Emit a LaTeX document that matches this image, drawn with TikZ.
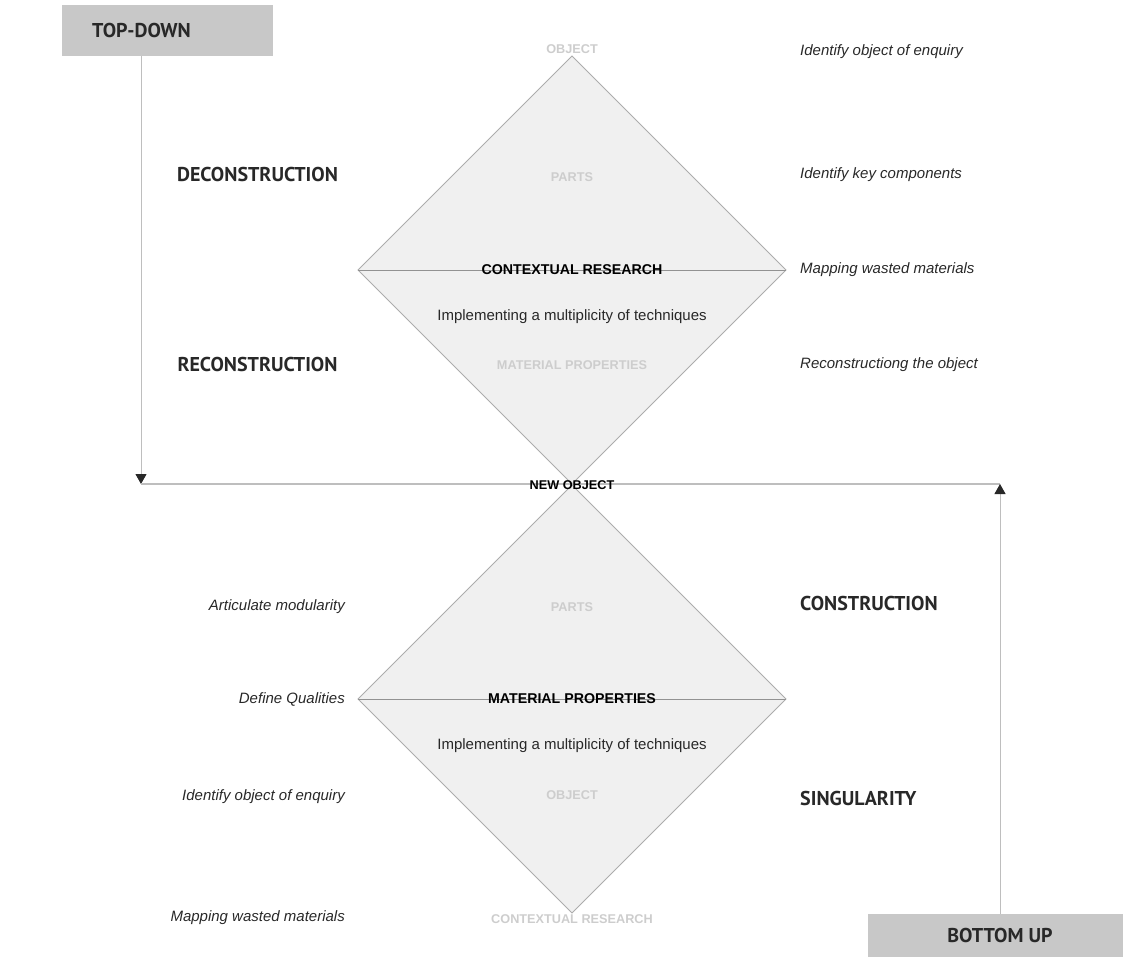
\documentclass[tikz,border=0pt]{standalone}
\usepackage{fontspec}
\setmainfont{Liberation Sans}
\newfontfamily\headfont{PT Sans}
\usetikzlibrary{arrows.meta, positioning}
\definecolor{boxgray}{RGB}{200, 200, 200}
\definecolor{fillgray}{RGB}{240, 240, 240}
\definecolor{edgegray}{RGB}{172, 172, 172}
\definecolor{linegray}{RGB}{190, 190, 190}
\definecolor{fadetext}{RGB}{205, 205, 205}
\definecolor{darktext}{RGB}{40, 40, 40}

\begin{document}
\begin{tikzpicture}[x=1pt, y=-1pt,
        % Set global font size for consistency
        font=\fontsize{15}{18}\selectfont,
        % Define reusable styles for different elements of the chart
        corner/.style={fill=boxgray, minimum width=211pt, minimum height=51pt, inner sep=0pt,
            font=\headfont\bfseries\fontsize{20}{22}\selectfont, text=darktext},
        flow/.style={draw=linegray, line width=1pt, -{Triangle[length=10pt, width=11pt, color=darktext]}},
        level/.style={draw=linegray, line width=1.5pt},
        diamondface/.style={fill=fillgray, draw=edgegray, line width=1pt},
        split/.style={draw=edgegray!85!black, line width=0.8pt},
        faded/.style={font=\bfseries\fontsize{12.7}{15}\selectfont, text=fadetext},
        strong/.style={font=\bfseries\fontsize{14.2}{16}\selectfont, text=black},
        body/.style={text=darktext},
        heading/.style={font=\headfont\bfseries\fontsize{20}{22}\selectfont, text=darktext, inner xsep=0pt},
        note/.style={font=\itshape\fontsize{15}{18}\selectfont, text=darktext, inner xsep=0pt}
    ]
    \useasboundingbox (0, 0) rectangle (1123, 957);

    % Two diamonds with their middle split
    \foreach \cy in {270, 699} {
        \filldraw[diamondface] (572, \cy-214) -- (786, \cy) -- (572, \cy+214) -- (358, \cy) -- cycle;
        \draw[split] (358, \cy) -- (786, \cy);
    }

    % Direction boxes and the flow between them
    \node[corner] (td) at (167.5, 30.5) {TOP-DOWN\hspace*{52pt}};
    \node[corner, minimum width=255pt, minimum height=43pt] (bu) at (995.5, 935.5) {\hspace*{9pt}BOTTOM UP};
    \coordinate (tdturn) at (141, 484);
    \coordinate (buturn) at (1000, 484);
    \draw[flow] (td.south -| tdturn) -- (tdturn);
    \draw[level] (tdturn) -- (buturn);
    \draw[flow] (bu.north -| buturn) -- (buturn);

    % Upper diamond labels
    \node[faded] (objtop) at (572, 49) {OBJECT};
    \node[faded] (partstop) at (572, 177) {PARTS};
    \node[strong] (ctxtop) at (572, 270) {CONTEXTUAL RESEARCH};
    \node[body] (techtop) at (572, 317) {Implementing a multiplicity of techniques};
    \node[faded] (mattop) at (572, 365) {MATERIAL PROPERTIES};
    \node[strong, font=\bfseries\fontsize{12.7}{15}\selectfont] (newobj) at (572, 485) {NEW OBJECT};

    % Lower diamond labels
    \node[faded] (partslow) at (572, 607) {PARTS};
    \node[strong] (matlow) at (572, 699) {MATERIAL PROPERTIES};
    \node[body] (techlow) at (572, 746) {Implementing a multiplicity of techniques};
    \node[faded] (objlow) at (572, 795) {OBJECT};
    \node[faded] (ctxlow) at (572, 919) {CONTEXTUAL RESEARCH};

    % Stage headings
    \node[heading] (decon) at (257.5, 175) {DECONSTRUCTION};
    \node[heading] (recon) at (257.5, 364) {RECONSTRUCTION};
    \node[heading, anchor=west] (con) at (800, 603) {CONSTRUCTION};
    \node[heading, anchor=west] (sing) at (800, 798) {SINGULARITY};

    % Step notes
    \foreach \y/\txt [count=\i] in {52/Identify object of enquiry, 175/Identify key components,
            270/Mapping wasted materials, 365/Reconstructiong the object} {
        \node[note, anchor=west] (stepR\i) at (800, \y) {\txt};
    }
    \foreach \y/\txt [count=\i] in {607/Articulate modularity, 699/Define Qualities,
            797/Identify object of enquiry, 918/Mapping wasted materials} {
        \node[note, anchor=east] (stepL\i) at (345, \y) {\txt};
    }
\end{tikzpicture}
\end{document}
